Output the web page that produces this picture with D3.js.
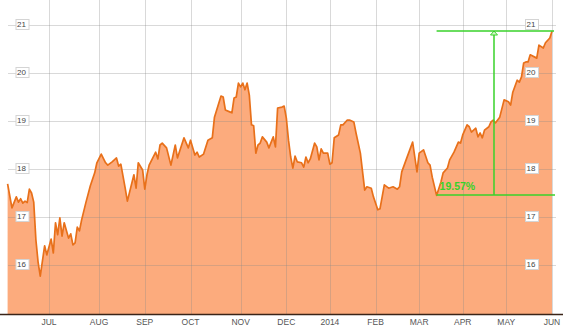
<!DOCTYPE html>
<html>
<head>
<meta charset="utf-8">
<script src="https://cdn.jsdelivr.net/npm/d3@7"></script>
<style>
  body { margin: 0; background: #fff; }
  svg { display: block; font-family: "Liberation Sans", Arial, sans-serif; }
</style>
</head>
<body>
<svg id="chart" width="566" height="329"></svg>
<script>
// trading-day index (0 = early June 2013) and closing price
const days = [
  0, 2, 4, 5, 6, 7, 8, 9, 10, 11, 12, 13, 14, 15, 17, 18, 20, 21, 22, 23, 24, 25, 26, 28, 29, 30,
  31, 32, 33, 34, 36, 38, 40, 41, 43, 45, 46, 48, 50, 51, 52, 54, 55, 58, 59, 60, 62, 63, 64, 65,
  68, 69, 70, 71, 73, 75, 77, 78, 81, 83, 84, 86, 87, 88, 90, 92, 94, 95, 98, 99, 100, 102, 103,
  104, 105, 106, 107, 108, 109, 110, 111, 112, 113, 114, 115, 116, 117, 119, 120, 122, 123, 124,
  126, 127, 128, 129, 130, 131, 132, 133, 135, 136, 137, 138, 139, 141, 142, 143, 144, 145, 147,
  148, 149, 150, 152, 153, 154, 156, 157, 159, 160, 162, 164, 165, 167, 168, 170, 171, 173, 175,
  177, 179, 180, 181, 183, 186, 187, 188, 189, 191, 193, 194, 195, 197, 199, 200, 202, 203, 205,
  207, 208, 209, 211, 212, 213, 215, 216, 217, 218, 219, 221, 222, 223, 224, 226, 228, 230, 231,
  232, 234, 235, 236, 237, 238, 239, 240, 243, 244, 246, 247, 249, 250
];
const prices = [
  17.69, 17.19, 17.42, 17.31, 17.38, 17.29, 17.33, 17.30, 17.58, 17.50, 17.31, 16.52, 16.06, 15.77,
  16.40, 16.21, 16.54, 16.25, 16.88, 16.63, 16.98, 16.60, 16.88, 16.56, 16.65, 16.42,
  16.46, 16.79, 16.71, 16.94, 17.31, 17.65, 17.92, 18.13, 18.31, 18.13, 18.08, 18.15, 18.23, 18.06,
  18.10, 17.60, 17.33, 17.88, 17.60, 18.13, 17.98, 17.58, 17.88, 18.08,
  18.35, 18.21, 18.50, 18.54, 18.44, 18.08, 18.50, 18.23, 18.65, 18.44, 18.60, 18.29, 18.35, 18.25,
  18.31, 18.60, 18.65, 19.08, 19.52, 19.50, 19.23, 19.19, 19.17,
  19.48, 19.50, 19.79, 19.71, 19.79, 19.65, 19.79, 19.54, 18.92, 18.90, 18.33, 18.50, 18.54, 18.67,
  18.56, 18.44, 18.67, 18.46, 19.27,
  19.29, 19.31, 19.06, 18.60, 18.25, 18.02, 18.27, 18.15, 18.13, 18.04, 18.25, 18.13, 18.21, 18.54,
  18.46, 18.19, 18.42, 18.33, 18.33,
  18.10, 18.13, 18.65, 18.71, 18.92, 18.92, 19.02, 19.02, 18.98, 18.75, 18.33, 17.56, 17.63, 17.60,
  17.42, 17.15, 17.17, 17.67, 17.60,
  17.63, 17.58, 17.63, 17.94, 18.19, 18.56, 18.25, 17.94, 18.33, 18.40, 18.13, 18.08, 17.83, 17.45,
  17.73, 17.92, 18.02, 18.19, 18.35,
  18.56, 18.54, 18.71, 18.92, 18.88, 18.77, 18.85, 18.67, 18.75, 18.65, 18.81, 18.88, 18.98, 19.02,
  18.96, 19.08, 19.44, 19.40, 19.33,
  19.60, 19.85, 19.81, 19.92, 20.21, 20.23, 20.23, 20.38, 20.31, 20.58, 20.52, 20.63, 20.73, 20.87
];
const monthLabels = ["JUL", "AUG", "SEP", "OCT", "NOV", "DEC", "2014", "FEB", "MAR", "APR", "MAY", "JUN"];
const monthDays = [19, 42, 63, 84, 107, 128, 148, 169, 189, 209, 229, 250];
const priceTicks = [16, 17, 18, 19, 20, 21];
const changeFrom = { day: 197, price: 17.45 };
const changeTo = { day: 250, price: 20.865 };

const plotBottom = 314;
const green = "#38d22a";

const svg = d3.select("#chart");
const x = d3.scaleLinear().domain([0, 250]).range([7.6, 552]);
const y = d3.scaleLinear().domain([16, 21]).range([265, 25]);

const data = days.map((d, i) => ({ day: d, price: prices[i] }));

const area = d3.area()
  .x((d) => x(d.day))
  .y0(plotBottom)
  .y1((d) => y(d.price));

const line = d3.line()
  .x((d) => x(d.day))
  .y((d) => y(d.price));

svg.append("path")
  .attr("d", area(data))
  .attr("fill", "#fcab7d");

// grid, drawn over the fill so it shows through faintly
const grid = svg.append("g")
  .attr("stroke", "#8a8a8a")
  .attr("stroke-opacity", 0.32)
  .attr("shape-rendering", "crispEdges");

grid.selectAll("line.h")
  .data(priceTicks)
  .join("line")
  .attr("class", "h")
  .attr("x1", 8)
  .attr("x2", 556)
  .attr("y1", (d) => Math.round(y(d)) + 0.5)
  .attr("y2", (d) => Math.round(y(d)) + 0.5);

grid.selectAll("line.v")
  .data(monthDays)
  .join("line")
  .attr("class", "v")
  .attr("x1", (d) => Math.round(x(d)) + 0.5)
  .attr("x2", (d) => Math.round(x(d)) + 0.5)
  .attr("y1", 0)
  .attr("y2", plotBottom);

svg.append("path")
  .attr("d", line(data))
  .attr("fill", "none")
  .attr("stroke", "#e8701a")
  .attr("stroke-width", 1.7)
  .attr("stroke-linejoin", "round");

// bottom axis
svg.append("line")
  .attr("x1", 0)
  .attr("x2", 563)
  .attr("y1", plotBottom + 0.5)
  .attr("y2", plotBottom + 0.5)
  .attr("stroke", "#3a2418")
  .attr("stroke-width", 1.5);

svg.selectAll("text.month")
  .data(monthDays)
  .join("text")
  .attr("class", "month")
  .attr("x", (d) => x(d))
  .attr("y", 325)
  .attr("text-anchor", "middle")
  .attr("font-size", 8.5)
  .attr("fill", "#555")
  .text((d, i) => monthLabels[i]);

// boxed price labels on both sides
function priceLabels(cx) {
  const g = svg.append("g");
  priceTicks.forEach((t) => {
    const lg = g.append("g").attr("transform", `translate(${cx},${Math.round(y(t)) - 1})`);
    const rect = lg.append("rect");
    const txt = lg.append("text")
      .attr("text-anchor", "middle")
      .attr("dy", "0.35em")
      .attr("font-size", 8)
      .attr("fill", "#444")
      .text(t);
    const b = txt.node().getBBox();
    rect
      .attr("x", Math.round(b.x - 2) + 0.5)
      .attr("y", Math.round(b.y) - 0.5)
      .attr("width", Math.round(b.width + 4))
      .attr("height", Math.round(b.height + 1))
      .attr("fill", "#fff")
      .attr("stroke", "#d4d4d4");
  });
}
priceLabels(21.5);
priceLabels(531);

// price change measurement
const x0 = x(changeFrom.day);
const x1 = x(changeTo.day);
const yLow = Math.round(y(changeFrom.price));
const yHigh = Math.round(y(changeTo.price));
const xm = Math.round((x0 + x1) / 2);
const pct = ((changeTo.price / changeFrom.price - 1) * 100).toFixed(2) + "%";

const ann = svg.append("g").attr("stroke", green).attr("stroke-width", 1.5).attr("fill", "none");
ann.append("line").attr("x1", x0).attr("x2", x1 + 2).attr("y1", yHigh).attr("y2", yHigh);
ann.append("line").attr("x1", x0).attr("x2", x1 + 3).attr("y1", yLow).attr("y2", yLow);
ann.append("line").attr("x1", xm).attr("x2", xm).attr("y1", yLow).attr("y2", yHigh);
ann.append("path")
  .attr("d", `M${xm - 3.5},${yHigh + 4}L${xm},${yHigh}L${xm + 3.5},${yHigh + 4}Z`)
  .attr("stroke-width", 1)
  .attr("fill", "#d8f5d0");

svg.append("text")
  .attr("x", x0 + 3)
  .attr("y", yLow - 5)
  .attr("font-size", 10.5)
  .attr("font-weight", "bold")
  .attr("fill", green)
  .text(pct);
</script>
</body>
</html>
